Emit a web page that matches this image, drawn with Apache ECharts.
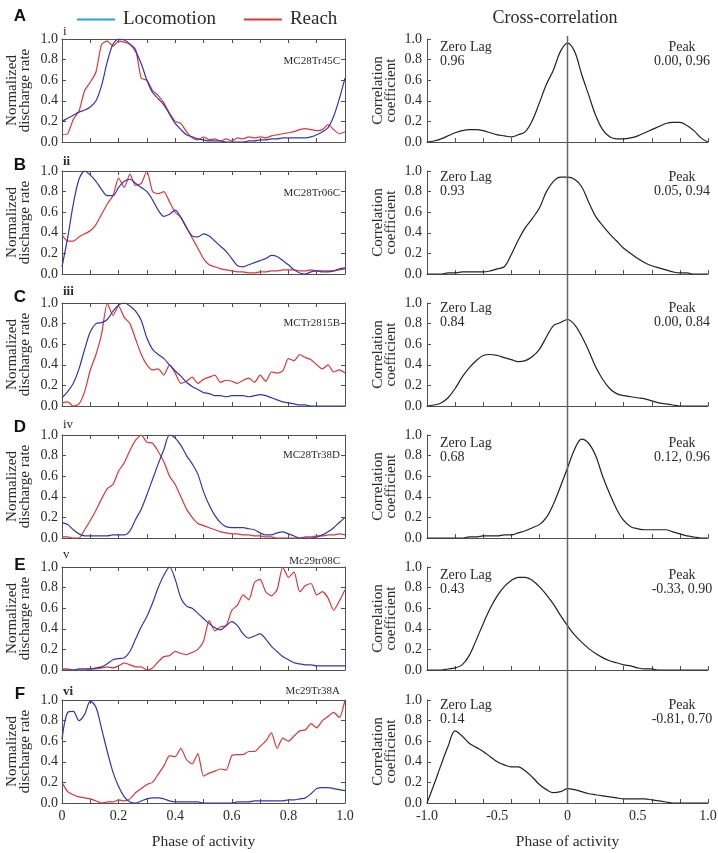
<!DOCTYPE html>
<html><head><meta charset="utf-8">
<script src="https://cdn.jsdelivr.net/npm/echarts@6/dist/echarts.min.js"></script>
<style>html,body{margin:0;padding:0;background:#fff}#c{width:718px;height:853px}</style>
</head><body><div id="c"></div>
<script>
// ---------- data ----------
const phase = [0,0.02,0.04,0.06,0.08,0.1,0.12,0.14,0.16,0.18,0.2,0.22,0.24,0.26,0.28,0.3,0.32,0.34,0.36,0.38,0.4,0.42,0.44,0.46,0.48,0.5,0.52,0.54,0.56,0.58,0.6,0.62,0.64,0.66,0.68,0.7,0.72,0.74,0.76,0.78,0.8,0.82,0.84,0.86,0.88,0.9,0.92,0.94,0.96,0.98,1.0];
const lag = [-1,-0.95,-0.9,-0.85,-0.8,-0.75,-0.7,-0.65,-0.6,-0.55,-0.5,-0.45,-0.4,-0.35,-0.3,-0.25,-0.2,-0.15,-0.1,-0.05,0,0.05,0.1,0.15,0.2,0.25,0.3,0.35,0.4,0.45,0.5,0.55,0.6,0.65,0.7,0.75,0.8,0.85,0.9,0.95,1.0];

const locoA = [0.2,0.23,0.26,0.29,0.31,0.34,0.4,0.55,0.78,0.95,1.0,0.99,0.95,0.88,0.76,0.6,0.48,0.42,0.36,0.27,0.18,0.12,0.07,0.05,0.03,0.02,0.01,0.01,0.01,0.0,0.0,0.0,0.0,0.01,0.01,0.02,0.02,0.03,0.03,0.04,0.04,0.04,0.04,0.04,0.05,0.07,0.1,0.14,0.25,0.42,0.62];
const reachA = [0.07,0.08,0.22,0.3,0.5,0.58,0.68,0.95,0.98,0.93,0.98,0.97,0.95,0.9,0.62,0.6,0.5,0.45,0.38,0.28,0.2,0.18,0.1,0.04,0.02,0.05,0.02,0.03,0.01,0.03,0.01,0.04,0.03,0.05,0.04,0.05,0.04,0.06,0.07,0.08,0.09,0.1,0.12,0.13,0.12,0.11,0.12,0.17,0.12,0.08,0.1];
const xcorrA = [0.0,0.01,0.03,0.06,0.09,0.11,0.12,0.12,0.11,0.09,0.07,0.06,0.05,0.07,0.1,0.21,0.38,0.56,0.7,0.88,0.96,0.88,0.66,0.46,0.26,0.12,0.05,0.03,0.03,0.04,0.06,0.09,0.12,0.15,0.18,0.19,0.19,0.16,0.11,0.04,0.0];

const locoB = [0.07,0.35,0.68,0.92,1.0,0.96,0.9,0.82,0.76,0.76,0.84,0.9,0.92,0.88,0.84,0.8,0.72,0.62,0.56,0.58,0.62,0.55,0.45,0.37,0.36,0.39,0.37,0.32,0.27,0.22,0.15,0.08,0.07,0.09,0.11,0.13,0.15,0.18,0.17,0.13,0.09,0.04,0.01,0.0,0.02,0.03,0.02,0.02,0.03,0.05,0.06];
const reachB = [0.38,0.32,0.32,0.36,0.39,0.42,0.48,0.58,0.68,0.76,0.93,0.84,0.97,0.86,0.88,1.0,0.8,0.78,0.8,0.7,0.6,0.55,0.45,0.35,0.25,0.15,0.09,0.07,0.05,0.04,0.03,0.02,0.02,0.01,0.01,0.02,0.02,0.03,0.03,0.04,0.04,0.04,0.03,0.03,0.04,0.03,0.03,0.03,0.03,0.04,0.05];
const xcorrB = [0,0,0,0.01,0.01,0.02,0.02,0.02,0.02,0.03,0.05,0.07,0.19,0.33,0.45,0.54,0.64,0.8,0.9,0.94,0.94,0.92,0.85,0.7,0.56,0.47,0.39,0.32,0.25,0.2,0.15,0.11,0.08,0.06,0.04,0.02,0.01,0.01,0,0,0];

const locoC = [0.08,0.14,0.22,0.36,0.55,0.72,0.8,0.81,0.84,0.92,0.98,1.0,0.97,0.92,0.83,0.66,0.55,0.5,0.46,0.4,0.34,0.29,0.23,0.19,0.16,0.13,0.12,0.1,0.1,0.09,0.1,0.1,0.1,0.09,0.1,0.11,0.1,0.08,0.06,0.04,0.03,0.02,0.01,0.01,0,0,0,0,0,0,0];
const reachC = [0.03,0.04,0.0,0.02,0.14,0.35,0.5,0.7,1.0,0.88,0.97,0.86,0.8,0.65,0.5,0.4,0.35,0.36,0.3,0.4,0.32,0.22,0.24,0.28,0.22,0.26,0.28,0.3,0.23,0.25,0.24,0.22,0.25,0.27,0.23,0.3,0.24,0.33,0.32,0.34,0.46,0.44,0.5,0.47,0.45,0.4,0.36,0.4,0.33,0.35,0.32];
const xcorrC = [0,0.01,0.03,0.08,0.17,0.28,0.37,0.44,0.49,0.5,0.49,0.47,0.45,0.43,0.44,0.48,0.55,0.67,0.78,0.81,0.84,0.79,0.68,0.54,0.38,0.26,0.17,0.12,0.1,0.09,0.08,0.07,0.05,0.03,0.02,0.01,0,0,0,0,0];

const locoD = [0.15,0.13,0.08,0.04,0.02,0.02,0.02,0.02,0.02,0.03,0.03,0.03,0.07,0.18,0.28,0.42,0.57,0.72,0.86,1.0,0.97,0.9,0.8,0.72,0.62,0.45,0.32,0.22,0.15,0.11,0.1,0.1,0.1,0.09,0.08,0.05,0.03,0.03,0.05,0.06,0.04,0.02,0,0,0,0.01,0.03,0.06,0.1,0.15,0.2];
const reachD = [0.01,0.01,0,0,0.08,0.17,0.27,0.38,0.48,0.52,0.65,0.73,0.85,0.95,1.0,0.93,0.92,0.84,0.74,0.6,0.52,0.4,0.28,0.2,0.14,0.12,0.1,0.08,0.06,0.05,0.04,0.04,0.03,0.03,0.02,0.02,0.01,0.01,0,0,0,0,0,0.01,0.01,0.02,0.02,0.03,0.03,0.04,0.03];
const xcorrD = [0,0,0,0,0,0,0.01,0.01,0.02,0.02,0.02,0.03,0.03,0.05,0.07,0.1,0.13,0.2,0.33,0.5,0.68,0.86,0.96,0.92,0.8,0.6,0.43,0.28,0.17,0.11,0.09,0.08,0.08,0.08,0.08,0.06,0.04,0.02,0.01,0,0];

const locoE = [0,0,0,0.01,0.01,0.01,0.02,0.03,0.06,0.1,0.11,0.12,0.18,0.3,0.42,0.52,0.65,0.8,0.92,1.0,0.88,0.7,0.62,0.6,0.55,0.5,0.45,0.41,0.39,0.43,0.47,0.43,0.35,0.31,0.33,0.35,0.3,0.23,0.18,0.13,0.1,0.07,0.06,0.05,0.05,0.04,0.04,0.04,0.04,0.04,0.04];
const reachE = [0.01,0.01,0,0,0,0.01,0.01,0.02,0.03,0.02,0.04,0.07,0.05,0.03,0.03,0,0.02,0.08,0.13,0.14,0.18,0.16,0.15,0.17,0.2,0.28,0.48,0.38,0.42,0.43,0.58,0.63,0.73,0.68,0.85,0.88,0.76,0.72,0.78,1.0,0.9,0.95,0.76,0.82,0.84,0.73,0.76,0.7,0.58,0.67,0.78];
const xcorrE = [0,0,0,0.01,0.02,0.05,0.14,0.29,0.45,0.6,0.72,0.81,0.87,0.9,0.9,0.87,0.81,0.73,0.64,0.53,0.43,0.34,0.27,0.21,0.16,0.12,0.09,0.07,0.05,0.04,0.02,0.01,0.01,0,0,0,0,0,0,0,0];

const locoF = [0.62,0.88,0.89,0.8,0.86,0.99,0.93,0.72,0.5,0.3,0.16,0.06,0.01,0,0.02,0.04,0.05,0.05,0.04,0.02,0.01,0.01,0.01,0.01,0.01,0,0,0,0,0,0,0.01,0.01,0.01,0.02,0.02,0.02,0.02,0.02,0.02,0.03,0.03,0.04,0.05,0.09,0.14,0.15,0.15,0.14,0.13,0.12];
const reachF = [0.2,0.11,0.08,0.06,0.05,0.04,0.02,0,0.01,0.01,0.03,0.02,0.04,0.1,0.14,0.18,0.2,0.28,0.36,0.46,0.45,0.53,0.42,0.38,0.48,0.26,0.29,0.31,0.33,0.32,0.46,0.47,0.47,0.5,0.5,0.55,0.6,0.68,0.53,0.63,0.6,0.65,0.7,0.71,0.77,0.73,0.8,0.84,0.88,0.83,1.0];
const xcorrF = [0,0.18,0.37,0.55,0.7,0.65,0.58,0.54,0.5,0.45,0.4,0.37,0.35,0.35,0.31,0.25,0.18,0.13,0.1,0.11,0.14,0.13,0.11,0.09,0.08,0.07,0.06,0.05,0.04,0.04,0.04,0.04,0.03,0.02,0.01,0,0,0,0,0,0];

const letters = ['A','B','C','D','E','F'];
const numerals = ['i','ii','iii','iv','v','vi'];
const cellIds = ['MC28Tr45C','MC28Tr06C','MCTr2815B','MC28Tr38D','Mc29tr08C','Mc29Tr38A'];
const zeroLag = ['0.96','0.93','0.84','0.68','0.43','0.14'];
const peaks = ['0.00, 0.96','0.05, 0.94','0.00, 0.84','0.12, 0.96','-0.33, 0.90','-0.81, 0.70'];

const locos = [locoA,locoB,locoC,locoD,locoE,locoF];
const reaches = [reachA,reachB,reachC,reachD,reachE,reachF];
const xcorrs = [xcorrA,xcorrB,xcorrC,xcorrD,xcorrE,xcorrF];

// ---------- layout / style ----------
const FONT = '"Liberation Serif","Times New Roman",serif';
const tops = [39,171,303,435,567,700];
const H = 103;
const letterY = [16,165,297,427,565,694];
const numeralY = [32,162,292,425,555,692];
const numeralBold = [false,true,true,false,false,true];
const cellY = [61,193,323,455,561,691];
const lagTextY = [40,170,301,436,568,698];
const BLUE = '#3434b0', RED = '#d8383a', AX = '#505050', TXT = '#2a2a2a';

const grid=[], xAxis=[], yAxis=[], series=[], texts=[];
const tick = {show:true, inside:true, length:4, lineStyle:{color:AX, width:1}};
const line = {show:true, onZero:false, lineStyle:{color:AX, width:1}};
const lbl = {fontFamily:FONT, fontSize:14, color:TXT};

for (let i=0;i<6;i++){
  const last = i===5;
  // left panel
  const gL = grid.length;
  grid.push({left:62, top:tops[i], width:283, height:H, outerBoundsMode:'none'});
  const xb = xAxis.length;
  xAxis.push({gridIndex:gL, type:'value', position:'bottom', min:0, max:1, interval:0.1,
    axisLine:line, axisTick:tick, splitLine:{show:false},
    axisLabel:Object.assign({show:last, margin:6, formatter:v=>{const k=Math.round(v*10); if(k%2) return ''; return k===0?'0':(k/10).toFixed(1);}}, lbl),
    name:last?'Phase of activity':'', nameLocation:'middle', nameGap:31,
    nameTextStyle:{fontFamily:FONT, fontSize:15.5, color:TXT}});
  xAxis.push({gridIndex:gL, type:'value', position:'top', min:0, max:1, interval:0.1,
    axisLine:line, axisTick:tick, splitLine:{show:false}, axisLabel:{show:false}});
  const yl = yAxis.length;
  yAxis.push({gridIndex:gL, type:'value', position:'left', min:0, max:1, interval:0.2,
    axisLine:line, axisTick:tick, splitLine:{show:false},
    axisLabel:Object.assign({margin:4, formatter:v=>v.toFixed(1)}, lbl),
    name:'Normalized\ndischarge rate', nameLocation:'middle', nameGap:31, nameRotate:90,
    nameTextStyle:{fontFamily:FONT, fontSize:15, lineHeight:12.5, color:TXT}});
  yAxis.push({gridIndex:gL, type:'value', position:'right', min:0, max:1, interval:0.2,
    axisLine:line, axisTick:tick, splitLine:{show:false}, axisLabel:{show:false}});
  series.push({name:'Locomotion', type:'line', xAxisIndex:xb, yAxisIndex:yl, symbol:'none', smooth:0.3,
    data:phase.map((x,k)=>[x,locos[i][k]]), lineStyle:{color:BLUE, width:1.2}, itemStyle:{color:BLUE}, z:3});
  series.push({name:'Reach', type:'line', xAxisIndex:xb, yAxisIndex:yl, symbol:'none', smooth:0.2,
    data:phase.map((x,k)=>[x,reaches[i][k]]), lineStyle:{color:RED, width:1.2}, itemStyle:{color:RED}, z:2});

  // right panel
  const gR = grid.length;
  grid.push({left:427, top:tops[i], width:281, height:H, outerBoundsMode:'none'});
  const xr = xAxis.length;
  xAxis.push({gridIndex:gR, type:'value', position:'bottom', min:-1, max:1, interval:0.2,
    axisLine:line, axisTick:tick, splitLine:{show:false}, axisLabel:{show:false}});
  if (last){
    xAxis.push({gridIndex:gR, type:'value', position:'bottom', min:-1, max:1, interval:0.5,
      axisLine:{show:false}, axisTick:{show:false}, splitLine:{show:false},
      axisLabel:Object.assign({margin:6, formatter:v=>v===0?'0':v.toFixed(1)}, lbl),
      name:'Phase of activity', nameLocation:'middle', nameGap:31,
      nameTextStyle:{fontFamily:FONT, fontSize:15.5, color:TXT}});
  }
  const yr = yAxis.length;
  yAxis.push({gridIndex:gR, type:'value', position:'left', min:0, max:1, interval:0.2,
    axisLine:line, axisTick:tick, splitLine:{show:false},
    axisLabel:Object.assign({margin:5, formatter:v=>v.toFixed(1)}, lbl),
    name:'Correlation\ncoefficient', nameLocation:'middle', nameGap:30, nameRotate:90,
    nameTextStyle:{fontFamily:FONT, fontSize:15, lineHeight:12.5, color:TXT}});
  series.push({name:'Cross-correlation', type:'line', xAxisIndex:xr, yAxisIndex:yr, symbol:'none', smooth:0.35,
    data:lag.map((x,k)=>[x,xcorrs[i][k]]), lineStyle:{color:'#222', width:1.2}, itemStyle:{color:'#222'}});

  // texts
  texts.push({type:'text', x:20, y:letterY[i], style:{text:letters[i], font:'bold 17px "Liberation Sans",Arial,sans-serif', fill:'#111', align:'center', textAlign:'center', verticalAlign:'middle', textVerticalAlign:'middle'}});
  texts.push({type:'text', x:63, y:numeralY[i], style:{text:numerals[i], font:(numeralBold[i]?'bold ':'')+'13px '+FONT, fill:TXT, align:'left', textAlign:'left', verticalAlign:'middle', textVerticalAlign:'middle'}});
  texts.push({type:'text', x:340, y:cellY[i], style:{text:cellIds[i], font:'11px '+FONT, fill:TXT, align:'right', textAlign:'right', verticalAlign:'middle', textVerticalAlign:'middle'}});
  texts.push({type:'text', x:440, y:lagTextY[i], style:{text:'Zero Lag\n'+zeroLag[i], font:'14px '+FONT, lineHeight:14, fill:TXT, align:'left', textAlign:'left', verticalAlign:'top', textVerticalAlign:'top'}});
  texts.push({type:'text', x:682, y:lagTextY[i], style:{text:'Peak\n'+peaks[i], font:'14px '+FONT, lineHeight:14, fill:TXT, align:'center', textAlign:'center', verticalAlign:'top', textVerticalAlign:'top'}});
}

// overlay grid for the zero-lag vertical line
const gO = grid.length;
grid.push({left:427, top:36, width:281, height:767, outerBoundsMode:'none'});
const xo = xAxis.length;
xAxis.push({gridIndex:gO, type:'value', min:-1, max:1, show:false});
const yo = yAxis.length;
yAxis.push({gridIndex:gO, type:'value', min:0, max:1, show:false});
series.push({name:'zero', type:'line', xAxisIndex:xo, yAxisIndex:yo, symbol:'none', silent:true,
  data:[[0,0],[0,1]], lineStyle:{color:'#666', width:1.5}, itemStyle:{color:'#666'}, z:5});

texts.push({type:'text', x:555, y:18, style:{text:'Cross-correlation', font:'18px '+FONT, fill:TXT, align:'center', textAlign:'center', verticalAlign:'middle', textVerticalAlign:'middle'}});

const chart = echarts.init(document.getElementById('c'), null, {renderer:'canvas'});
chart.setOption({
  animation:false,
  backgroundColor:'#fff',
  grid, xAxis, yAxis, series,
  legend:{left:72, top:5, icon:'rect', itemWidth:38, itemHeight:2, itemGap:28,
    textStyle:{fontFamily:FONT, fontSize:19, color:TXT, padding:[0,0,0,3]},
    data:[{name:'Locomotion', itemStyle:{color:'#2a9fd8'}},
          {name:'Reach', itemStyle:{color:RED}}]},
  graphic:{elements:texts}
});
</script></body></html>
